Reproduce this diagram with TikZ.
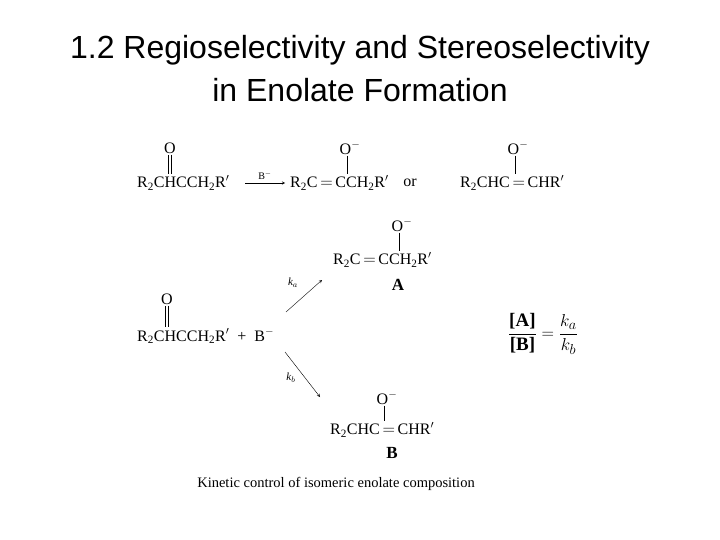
\documentclass[tikz,border=0pt]{standalone}
\usepackage{amsmath}
\usepackage{fontspec}
\setmainfont{Liberation Serif}
\newfontfamily\titlefont{Liberation Sans}
\usepackage{tikz}
\usetikzlibrary{positioning,arrows}

\begin{document}
\begin{tikzpicture}[
    x=1pt, y=-1pt,
    chem/.style={inner sep=0pt, font=\fontsize{16}{18}\selectfont},
    rate/.style={inner sep=0pt, font=\fontsize{11}{12}\selectfont\itshape},
    arrow/.style={-stealth,thin},
    dbond/.style={double, double distance=2.5pt, thin, shorten <=1pt, shorten >=1pt},
    sbond/.style={thin, shorten <=1pt, shorten >=1pt}
]
\useasboundingbox (0,0) rectangle (720,540);

% Title
\node (title1) [font=\titlefont\fontsize{32}{36}\selectfont] at (360,50) {1.2 Regioselectivity and Stereoselectivity};
\node (title2) [font=\titlefont\fontsize{32}{36}\selectfont] at (360,90) {in Enolate Formation};

% Row 1
\node (ket1) [chem, anchor=west] at (137,183) {R\textsubscript{2}CHCCH\textsubscript{2}R$'$};
\node (oket1) [chem] at (170,148) {O};
\node (enA1) [chem, anchor=west] at (290,183) {R\textsubscript{2}C\,$=$\,CCH\textsubscript{2}R$'$};
\node (oA1) [chem] at (350,148) {O$^-$};
\node (or) [chem] at (410,183) {or};
\node (enB1) [chem, anchor=west] at (460,183) {R\textsubscript{2}CHC\,$=$\,CHR$'$};
\node (oB1) [chem] at (518,148) {O$^-$};
\coordinate (arr1s) at (245,183);
\coordinate (arr1e) at (285,183);
\draw[arrow] (arr1s) -- node[above, font=\fontsize{10}{12}\selectfont] {B$^-$} (arr1e);
\draw[dbond] (oket1.south) -- (oket1.south |- ket1.north);
\draw[sbond] (oA1.south -| 347,0) -- (347,0 |- enA1.north);
\draw[sbond] (oB1.south -| 515,0) -- (515,0 |- enB1.north);

% Row 2 - enolate A
\node (enA) [chem, anchor=west] at (333,260) {R\textsubscript{2}C\,$=$\,CCH\textsubscript{2}R$'$};
\node (oA) [chem] at (402,225) {O$^-$};
\node (labA) [chem, font=\fontsize{17}{18}\selectfont\bfseries] at (398,285) {A};
\draw[sbond] (oA.south -| 399,0) -- (399,0 |- enA.north);

% Ketone + base
\node (ket) [chem, anchor=west] at (137,336) {R\textsubscript{2}CHCCH\textsubscript{2}R$'$ \ + \ B$^-$};
\node (oket) [chem] at (167,299) {O};
\draw[dbond] (oket.south) -- (oket.south |- ket.north);

% Enolate B
\node (enB) [chem, anchor=west] at (330,430) {R\textsubscript{2}CHC\,$=$\,CHR$'$};
\node (oB) [chem] at (387,398) {O$^-$};
\node (labB) [chem, font=\fontsize{17}{18}\selectfont\bfseries] at (392,453) {B};
\draw[sbond] (oB.south -| 384,0) -- (384,0 |- enB.north);

% Arrows
\coordinate (upS) at (286,312);
\coordinate (upE) at (322,280);
\coordinate (dnS) at (285,352);
\coordinate (dnE) at (320,397);
\draw[arrow] (upS) -- (upE);
\draw[arrow] (dnS) -- (dnE);
\node (ka) [rate] at (293,283) {k$_a$};
\node (kb) [rate] at (291,378) {k$_b$};

% Ratio
\node (ratio) [chem, font=\fontsize{19}{22}\selectfont] at (543,334) {$\dfrac{\textbf{[A]}}{\textbf{[B]}} = \dfrac{k_a}{k_b}$};

% Caption
\node (caption) [font=\fontsize{14.5}{16}\selectfont] at (336,484) {Kinetic control of isomeric enolate composition};
\end{tikzpicture}
\end{document}
